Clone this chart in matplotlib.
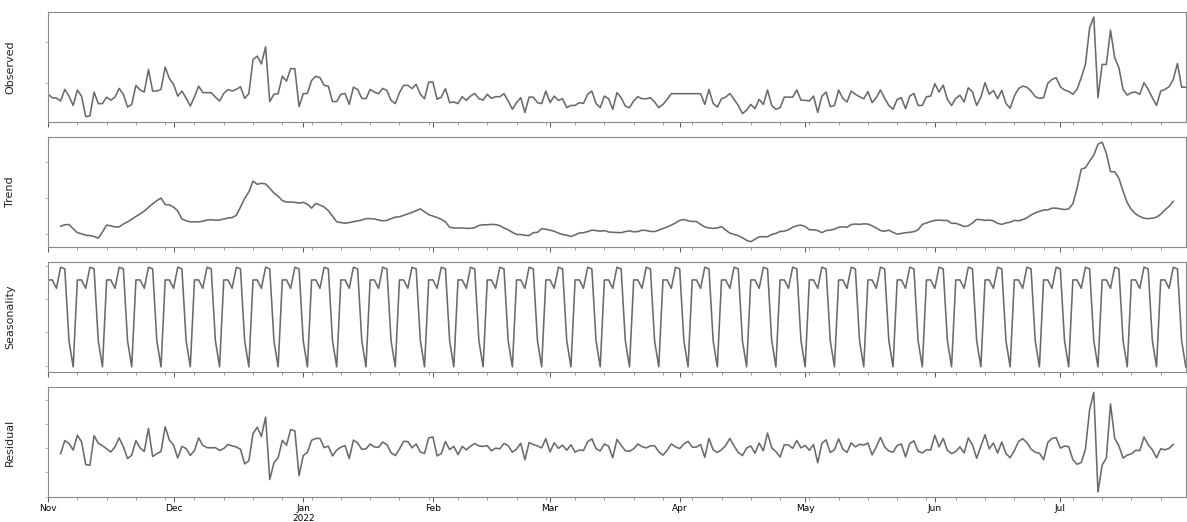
import numpy as np
import pandas as pd
import matplotlib
matplotlib.use("Agg")
import matplotlib.pyplot as plt
import matplotlib.dates as mdates
from matplotlib.ticker import FuncFormatter, NullFormatter, MultipleLocator

# daily values, 2021-11-01 .. 2022-07-31
observed = [
    14.3, 12.6, 12.4, 11.0, 16.7, 13.4, 8.8, 16.4, 13.4, 3.3,
    3.6, 15.4, 9.7, 9.7, 12.9, 11.4, 12.9, 17.2, 14.3, 8.0,
    9.3, 18.7, 16.4, 15.4, 26.5, 15.9, 15.9, 16.7, 27.7, 22.1,
    19.2, 13.4, 15.9, 12.4, 8.5, 13.1, 18.3, 15.1, 15.1, 15.1,
    12.9, 11.0, 14.7, 16.6, 15.9, 16.7, 18.0, 12.3, 14.6, 31.4,
    33.1, 29.3, 37.7, 10.7, 14.3, 14.6, 23.2, 20.8, 27.0, 26.9,
    8.2, 14.6, 14.7, 21.1, 23.2, 22.5, 18.7, 18.3, 10.7, 10.7,
    14.3, 14.7, 9.3, 17.8, 16.7, 12.3, 12.1, 16.7, 15.4, 14.6,
    17.2, 16.2, 11.3, 9.7, 15.1, 18.7, 18.7, 17.1, 19.2, 14.3,
    12.1, 20.3, 20.3, 11.8, 12.9, 17.1, 10.2, 10.5, 9.7, 13.1,
    11.3, 13.4, 14.7, 12.1, 11.4, 14.3, 12.3, 13.1, 13.1, 14.6,
    11.0, 6.9, 10.2, 12.6, 5.3, 12.9, 12.9, 10.2, 9.7, 15.9,
    10.2, 13.4, 11.3, 12.1, 7.7, 8.8, 8.8, 10.2, 9.8, 14.3,
    15.9, 9.7, 7.7, 13.4, 12.1, 6.9, 15.1, 12.6, 8.5, 7.7,
    11.0, 13.1, 12.1, 12.1, 12.6, 10.5, 7.7, 9.3, 11.8, 14.6,
    14.6, 14.6, 14.6, 14.6, 14.6, 14.6, 14.6, 9.3, 16.7, 9.8,
    8.0, 12.1, 12.9, 14.7, 11.8, 8.8, 4.8, 6.4, 9.3, 7.2,
    11.8, 9.3, 16.4, 8.8, 6.9, 7.7, 12.9, 12.9, 12.9, 16.4,
    11.4, 11.3, 11.0, 13.4, 5.3, 13.4, 15.4, 8.2, 8.8, 16.4,
    12.3, 10.5, 15.9, 14.3, 13.1, 12.1, 15.6, 10.2, 12.6, 16.4,
    12.3, 8.8, 6.9, 11.8, 12.6, 7.2, 13.4, 14.7, 8.8, 8.8,
    13.1, 13.4, 19.5, 15.4, 18.8, 11.8, 8.8, 12.3, 13.8, 10.5,
    17.5, 15.4, 8.8, 12.9, 20.0, 14.3, 16.2, 12.1, 16.2, 9.8,
    7.4, 13.4, 17.1, 18.3, 17.8, 15.9, 13.1, 12.3, 12.6, 19.7,
    21.6, 22.5, 18.0, 16.4, 15.7, 14.3, 16.7, 22.5, 29.0, 47.0,
    52.4, 12.6, 29.0, 29.0, 45.9, 32.3, 27.4, 16.7, 13.9, 15.1,
    15.4, 14.3, 20.0, 16.7, 12.6, 8.8, 15.9, 16.7, 18.0, 21.6,
    29.5, 17.8, 17.8,
]

# trend and residual start on day 4 (2021-11-04)
trend = [
    12.3, 12.7, 12.75, 11.6, 10.5, 10.2, 9.8, 9.7, 9.45, 9.0,
    10.7, 12.6, 12.4, 12.1, 12.1, 12.9, 13.5, 14.2, 15.0, 15.7,
    16.5, 17.5, 18.5, 19.4, 20.1, 18.3, 18.2, 17.6, 16.5, 14.3,
    13.8, 13.5, 13.5, 13.5, 13.7, 14.0, 14.1, 13.95, 14.0, 14.3,
    14.55, 14.7, 15.3, 17.6, 20.0, 21.8, 24.8, 23.9, 24.2, 24.0,
    22.8, 21.5, 20.6, 19.4, 19.0, 19.0, 18.9, 18.7, 18.9, 18.4,
    17.3, 18.6, 18.15, 17.6, 16.6, 15.1, 13.5, 13.3, 13.15, 13.3,
    13.55, 13.75, 14.0, 14.4, 14.4, 14.3, 14.0, 13.8, 13.9, 14.4,
    14.8, 14.9, 15.3, 15.7, 16.1, 16.6, 17.1, 16.3, 15.5, 15.1,
    14.7, 14.2, 13.5, 12.0, 11.8, 11.8, 11.8, 11.7, 11.7, 11.9,
    12.5, 12.7, 12.7, 12.8, 12.75, 12.45, 11.8, 11.3, 10.6, 10.0,
    10.0, 9.75, 9.7, 10.5, 10.6, 11.6, 11.45, 11.2, 10.9, 10.4,
    10.0, 9.8, 9.45, 9.9, 10.4, 10.5, 10.8, 11.2, 11.1, 10.9,
    11.1, 10.7, 10.6, 10.55, 10.5, 10.8, 11.0, 10.75, 10.8, 11.2,
    11.1, 10.85, 10.8, 11.2, 11.65, 12.1, 12.6, 13.2, 13.9, 14.15,
    13.8, 13.6, 13.6, 12.8, 12.1, 11.8, 11.7, 11.8, 12.2, 11.2,
    10.4, 10.0, 9.7, 9.1, 8.4, 8.0, 8.7, 9.35, 9.4, 9.35,
    10.0, 10.3, 10.85, 10.9, 11.3, 12.0, 12.45, 12.6, 12.2, 11.3,
    11.3, 11.1, 10.5, 11.1, 11.2, 11.5, 12.0, 12.15, 12.0, 12.75,
    12.9, 12.8, 12.95, 12.9, 12.4, 11.8, 11.1, 10.9, 11.2, 10.6,
    10.1, 10.3, 10.5, 10.6, 10.8, 11.3, 12.8, 13.2, 13.6, 13.9,
    14.0, 13.9, 13.9, 13.1, 13.1, 12.7, 12.2, 12.4, 13.2, 14.2,
    14.1, 13.9, 14.0, 13.8, 13.1, 12.8, 13.2, 13.4, 13.9, 13.8,
    14.1, 14.6, 15.4, 16.0, 16.4, 16.8, 16.8, 17.3, 17.3, 17.1,
    16.9, 17.1, 18.5, 22.8, 28.1, 28.5, 30.3, 32.0, 35.0, 35.6,
    32.5, 27.4, 27.4, 25.6, 22.0, 18.8, 16.9, 15.7, 15.0, 14.5,
    14.4, 14.5, 14.8, 15.6, 16.8, 17.8, 19.2,
]

# weekly seasonal pattern, Monday .. Sunday
weekly_pattern = [0.57, 0.57, 0.32, 0.95, 0.90, -1.25, -2.03]

residual = [
    -2.3, 3.1, 1.9, -0.8, 5.3, 2.6, -6.8, -7.1, 5.1, 2.0,
    1.0, -0.3, -1.6, 0.5, 4.2, 0.5, -4.3, -2.9, 3.1, 0.1,
    -1.4, 8.1, -3.5, -2.3, -1.4, 8.8, 3.3, 1.3, -4.1, 0.7,
    -0.2, -3.0, -1.0, 4.2, 1.1, 0.2, 0.1, 0.2, -1.0, -0.2,
    1.5, 0.9, 0.5, -0.5, -6.5, -5.2, 6.0, 8.6, 4.8, 12.8,
    -13.0, -6.0, -4.0, 3.2, 1.2, 7.7, 7.1, -11.4, -3.1, -1.7,
    3.2, 4.0, 4.0, 0.2, 0.8, -3.2, -0.8, 0.4, 1.0, -4.3,
    3.3, 2.1, -0.5, -0.3, 1.7, 0.5, 0.3, 2.5, 1.4, -1.9,
    -3.1, -0.4, 2.8, 2.7, 0.1, 1.7, -1.6, -2.2, 4.2, 4.6,
    -3.2, -2.3, 2.7, -0.6, 0.7, -2.7, 0.7, -0.7, 0.8, 1.9,
    0.9, 0.7, 1.0, -1.1, 0.0, -0.3, 1.9, 1.0, -1.7, -0.4,
    2.0, -4.8, 2.3, 1.5, 0.9, 0.1, 3.9, -1.6, 2.2, -0.1,
    1.2, -0.9, 1.4, -1.7, -0.8, -1.0, 2.6, 3.8, -0.2, -1.2,
    1.7, 0.8, -4.0, 3.6, 1.2, -1.1, -1.3, -0.3, 1.7, 0.6,
    0.1, 0.9, 1.0, -1.5, -2.9, -0.9, 1.7, 0.5, -0.2, 1.7,
    2.8, 0.4, 0.4, 1.5, -3.8, 4.0, -0.7, -1.8, -0.7, 1.1,
    4.0, 0.9, -1.8, -3.1, 0.0, 0.9, -2.1, 2.1, -1.1, 6.2,
    0.1, -1.4, -3.7, 1.4, 1.3, -0.1, 3.1, 0.1, 1.1, -0.9,
    1.5, -6.1, 2.0, 3.4, -1.8, -0.7, 3.8, -0.4, -1.8, 2.2,
    0.5, 1.6, 1.2, 2.1, -2.8, 0.5, 4.4, 0.5, -1.2, -1.7,
    1.1, 1.7, -3.6, 1.9, 3.0, -1.3, -2.0, -0.7, -0.8, 5.3,
    0.5, 4.0, -0.9, -2.3, -1.4, 0.5, -2.0, 4.2, 1.3, -4.2,
    0.8, 5.5, -0.3, 2.1, -2.0, 2.5, -2.2, -4.0, -1.1, 2.7,
    3.9, 2.3, -0.4, -1.7, -2.1, -4.8, 2.3, 4.0, 4.3, 0.0,
    0.8, 0.6, -4.8, -6.7, -5.9, -0.5, 15.8, 23.0, -18.1, -7.0,
    -4.1, 18.2, 4.0, 0.9, -4.1, -2.9, -2.4, -0.9, -1.0, 4.6,
    1.4, -0.7, -4.0, -0.3, -0.7, -0.1, 1.5,
]

dates = pd.date_range("2021-11-01", periods=len(observed), freq="D")
inner_dates = dates[3:3 + len(trend)]
seasonal = np.tile(weekly_pattern, len(dates) // 7 + 1)[:len(dates)]

line_color = "#6a6a6a"
spine_color = "#8a8a8a"

fig, axes = plt.subplots(4, 1, figsize=(11.87, 5.22), dpi=100, sharex=True)
fig.subplots_adjust(left=0.0405, right=0.999, top=0.977, bottom=0.048, hspace=0.142)

panels = [
    (dates, observed, "Observed", 20),
    (inner_dates, trend, "Trend", 10),
    (dates, seasonal, "Seasonality", 1),
    (inner_dates, residual, "Residual", 10),
]


def month_label(x, pos=None):
    d = mdates.num2date(x)
    if d.month == 1:
        return d.strftime("%b") + "\n" + d.strftime("%Y")
    return d.strftime("%b")


for ax, (x, y, name, step) in zip(axes, panels):
    ax.plot(x, y, color=line_color, linewidth=1.15)
    ax.set_ylabel(name, fontsize=8, color="#222222")
    ax.yaxis.set_label_coords(-0.029, 0.5)
    ax.yaxis.set_major_locator(MultipleLocator(step))
    ax.yaxis.set_major_formatter(NullFormatter())
    ax.tick_params(axis="y", length=2, width=0.6, color="#aaaaaa")
    ax.tick_params(axis="x", which="major", length=3.5, width=0.7,
                   color="#555555", labelsize=6.5, pad=1.5)
    ax.tick_params(axis="x", which="minor", length=1.8, width=0.5, color="#777777")
    for s in ax.spines.values():
        s.set_color(spine_color)
        s.set_linewidth(0.8)

ax = axes[-1]
ax.set_xlim(dates[0], dates[-1])
ax.xaxis.set_major_locator(mdates.MonthLocator())
ax.xaxis.set_minor_locator(mdates.WeekdayLocator(byweekday=mdates.MO))
ax.xaxis.set_major_formatter(FuncFormatter(month_label))
ax.xaxis.set_minor_formatter(NullFormatter())
for label in ax.get_xticklabels():
    label.set_horizontalalignment("center")

fig.savefig("out.png", dpi=100)
